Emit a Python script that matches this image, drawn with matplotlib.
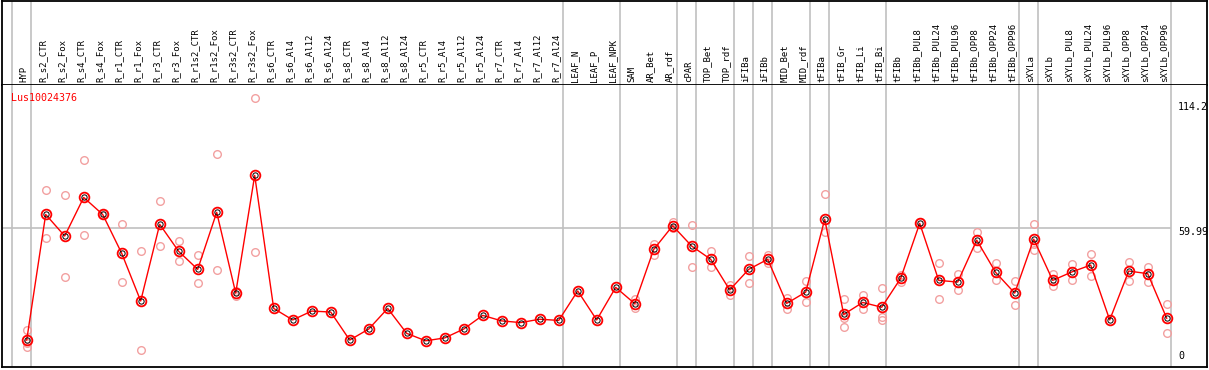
import numpy as np
import matplotlib
matplotlib.use("Agg")
import matplotlib.pyplot as plt
import matplotlib.transforms as mtrans

samples = ["HYP", "R_s2_CTR", "R_s2_Fox", "R_s4_CTR", "R_s4_Fox", "R_r1_CTR", "R_r1_Fox",
           "R_r3_CTR", "R_r3_Fox", "R_r1s2_CTR", "R_r1s2_Fox", "R_r3s2_CTR", "R_r3s2_Fox",
           "R_s6_CTR", "R_s6_Al4", "R_s6_Al12", "R_s6_Al24", "R_s8_CTR", "R_s8_Al4",
           "R_s8_Al12", "R_s8_Al24", "R_r5_CTR", "R_r5_Al4", "R_r5_Al12", "R_r5_Al24",
           "R_r7_CTR", "R_r7_Al4", "R_r7_Al12", "R_r7_Al24", "LEAF_N", "LEAF_P", "LEAF_NPK",
           "SAM", "AR_Bet", "AR_rdf", "cPAR", "TOP_Bet", "TOP_rdf", "iFIBa", "iFIBb",
           "MID_Bet", "MID_rdf", "tFIBa", "tFIB_Gr", "tFIB_Li", "tFIB_Bi", "tFIBb",
           "tFIBb_PUL8", "tFIBb_PUL24", "tFIBb_PUL96", "tFIBb_OPP8", "tFIBb_OPP24",
           "tFIBb_OPP96", "sXYLa", "sXYLb", "sXYLb_PUL8", "sXYLb_PUL24", "sXYLb_PUL96",
           "sXYLb_OPP8", "sXYLb_OPP24", "sXYLb_OPP96"]

means = [13.4, 65.8, 56.8, 72.9, 65.8, 49.6, 29.7, 61.7, 50.4, 42.9, 66.7, 33.0, 82.1,
         26.6, 21.8, 25.5, 25.1, 13.4, 18.0, 26.6, 16.2, 13.1, 14.3, 18.0, 23.7,
         21.4, 20.7, 22.1, 21.6, 33.9, 21.8, 35.4,
         28.6, 51.2, 61.1, 52.6, 47.1, 34.3, 42.9, 47.1, 28.7, 33.4, 63.8, 24.1, 29.1, 27.1,
         39.2, 62.1, 38.3, 37.6, 55.1, 41.6, 33.0,
         55.5, 38.3, 41.8, 44.7, 21.8, 42.2, 41.1, 22.5]

reps = [[17.6, 12.0, 10.6], [76.0, 56.1], [73.8, 39.7], [88.5, 57.2], [66.0], [61.7, 37.5],
        [50.4, 9.3], [71.3, 52.5], [54.6, 46.2], [48.7, 37.1], [90.9, 42.5], [33.9, 31.7],
        [114.2, 50.0],
        [], [], [], [], [], [], [], [], [], [], [], [], [], [], [], [], [], [], [],
        [30.5, 26.9], [53.5, 49.0], [62.8, 60.0], [61.4, 43.9], [50.4, 43.9], [36.4, 32.1],
        [48.3, 37.1], [49.0, 45.4], [30.9, 26.5], [38.0, 29.1], [74.2, 58.6],
        [30.4, 22.5, 18.7], [32.2, 26.2], [35.0, 23.1, 21.8],
        [40.5, 37.7], [62.8], [45.5, 30.7], [40.9, 34.1], [58.3, 51.7], [45.5, 38.3],
        [38.0, 27.9],
        [61.7, 53.3, 51.1], [40.9, 36.1], [45.1, 38.3], [49.3, 40.0], [], [46.0, 38.0],
        [44.0, 37.7], [28.4, 16.2]]

# group separators (line drawn just after these sample indices)
group_ends = [-1, 0, 28, 31, 34, 35, 37, 38, 39, 41, 42, 45, 52, 53, 60]

x = np.arange(len(samples))
xlim = (-1.3, 62.12)
ylim = (2.17, 119.8)
grid_c = "#c0c0c0"
mono = "DejaVu Sans Mono"

fig = plt.figure(figsize=(12.09, 3.70), dpi=100)
W, H = 1209.0, 370.0
left, right = 2 / W, 1207 / W
ax_h = fig.add_axes([left, (H - 85) / H, right - left, 84.4 / H])
ax = fig.add_axes([left, (H - 367) / H, right - left, 282 / H])

for a in (ax, ax_h):
    a.set_xlim(xlim)
    a.set_xticks([])
    a.set_yticks([])
    for s in a.spines.values():
        s.set_linewidth(1.3)
        s.set_color("black")
    for g in group_ends:
        a.axvline(g + 0.21, color=grid_c, lw=1.2, zorder=0)

ax.spines["top"].set_visible(False)
ax_h.set_ylim(0, 1)

# header labels
for i, name in enumerate(samples):
    ax_h.text(i - 0.15, 0.04, name, rotation=90, ha="center", va="bottom",
              fontsize=6.5, family=mono)

ax.set_ylim(ylim)
ax.hlines(59.99, xlim[0], 60.21, color=grid_c, lw=1.2, zorder=0)

# replicate points
for i, r in enumerate(reps):
    if r:
        ax.plot([i] * len(r), r, "o", mfc="none", mec="#f2a0a0", ms=5.5, mew=1.0, zorder=2)

ax.plot(x, means, "-", color="red", lw=1.0, zorder=3)
ax.plot(x, means, "o", mfc="none", mec="red", ms=7, mew=1.3, zorder=4)
ax.plot(x, means, "o", mfc="none", mec="black", ms=3.8, mew=0.7, zorder=5)

ax.text(9.3 / 1205, 0.955, "Lus10024376", transform=ax.transAxes, color="red",
        fontsize=7.2, family=mono, va="center", ha="left")

off = mtrans.offset_copy(ax.transData, fig=fig, x=0, y=-4, units="dots")
ax.text(60.6, 114.2, "114.2", transform=off, fontsize=7.2, family=mono, va="top", ha="left")
ax.text(60.6, 59.99, "59.99", transform=mtrans.offset_copy(ax.transData, fig=fig, x=0, y=1, units="dots"),
        fontsize=7.2, family=mono, va="top", ha="left")
ax.text(60.6, 0.0, "0", transform=mtrans.offset_copy(ax.transData, fig=fig, x=0, y=16, units="dots"),
        fontsize=7.2, family=mono, va="center", ha="left")

fig.savefig("out.png", dpi=100)
